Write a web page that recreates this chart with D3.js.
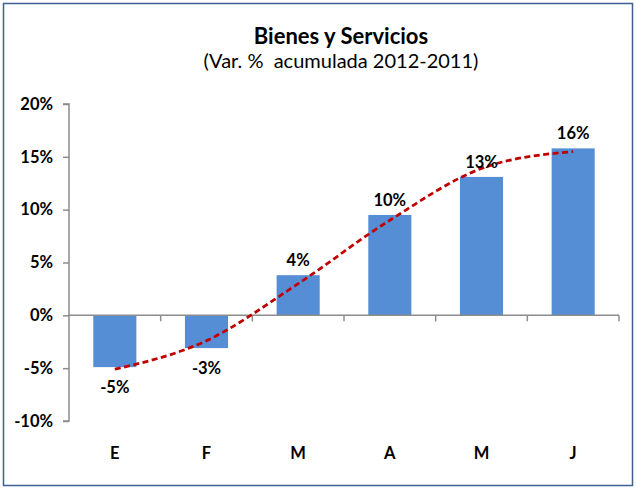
<!DOCTYPE html>
<html>
<head>
<meta charset="utf-8">
<script src="https://cdn.jsdelivr.net/npm/d3@7"></script>
<style>
  body { margin: 0; background: #fff; }
  text { font-family: Lato, "Open Sans", sans-serif; fill: #000; }
</style>
</head>
<body>
<svg id="chart" width="636" height="489"></svg>
<script>
var months = ["E", "F", "M", "A", "M ", "J"];
var values = [-4.9, -3.1, 3.8, 9.5, 13.1, 15.8];
var labels = ["-5%", "-3%", "4%", "10%", "13%", "16%"];
var trend = [-5.1, -2.4, 3.0, 9.0, 13.9, 15.5];
var yTicks = [-10, -5, 0, 5, 10, 15, 20];

var svg = d3.select("#chart"),
    width = +svg.attr("width"),
    height = +svg.attr("height");

var margin = {left: 69, right: 17, top: 104, bottom: 68};

svg.append("rect")
    .attr("x", 3.5).attr("y", 3.5)
    .attr("width", width - 7).attr("height", height - 7)
    .attr("fill", "#fff")
    .attr("stroke", "#3f5f93")
    .attr("stroke-width", 1.5);

svg.append("text")
    .attr("x", 341).attr("y", 44)
    .attr("text-anchor", "middle")
    .style("font-size", "22px").style("font-weight", "bold")
    .text("Bienes y Servicios");

svg.append("text")
    .attr("x", 341).attr("y", 68)
    .attr("text-anchor", "middle")
    .style("font-size", "20px")
    .style("white-space", "pre")
    .text("(Var. %  acumulada 2012-2011)");

var x = d3.scaleBand()
    .domain(months)
    .range([margin.left, width - margin.right]);

var y = d3.scaleLinear()
    .domain([-10, 20])
    .range([421, margin.top]);

var barW = x.bandwidth() * 0.47;

// y axis
var yAxis = svg.append("g")
    .attr("transform", "translate(" + margin.left + ",0)")
    .call(d3.axisLeft(y).tickValues(yTicks).tickSize(6).tickPadding(10)
        .tickFormat(function(d) { return d + "%"; }));
yAxis.selectAll("path, line").attr("stroke", "#8c8c8c").attr("stroke-width", 1.5);
yAxis.selectAll("text")
    .style("font-size", "16.5px").style("font-weight", "bold")
    .style("font-family", "Lato, 'Open Sans', sans-serif");
yAxis.select(".domain").attr("d", "M-6," + y(20) + "H0V" + y(-10) + "H-6");

// bars
svg.append("g")
  .selectAll("rect")
  .data(values)
  .enter().append("rect")
    .attr("x", function(d, i) { return x(months[i]) + (x.bandwidth() - barW) / 2; })
    .attr("y", function(d) { return y(Math.max(0, d)); })
    .attr("width", barW)
    .attr("height", function(d) { return Math.abs(y(d) - y(0)); })
    .attr("fill", "#558ed5");

// x axis at zero
var xAxis = svg.append("g")
    .attr("transform", "translate(0," + y(0) + ")");
xAxis.append("line")
    .attr("x1", margin.left).attr("x2", width - margin.right)
    .attr("stroke", "#8c8c8c").attr("stroke-width", 1.5);
xAxis.selectAll("line.tick")
  .data(months)
  .enter().append("line")
    .attr("class", "tick")
    .attr("x1", function(d) { return x(d) + x.bandwidth(); })
    .attr("x2", function(d) { return x(d) + x.bandwidth(); })
    .attr("y1", 0).attr("y2", 6)
    .attr("stroke", "#8c8c8c").attr("stroke-width", 1.5);

// category labels
svg.append("g")
  .selectAll("text")
  .data(months)
  .enter().append("text")
    .attr("x", function(d) { return x(d) + x.bandwidth() / 2; })
    .attr("y", 459)
    .attr("text-anchor", "middle")
    .style("font-size", "16.5px").style("font-weight", "bold")
    .text(function(d) { return d.trim(); });

// trend line
var line = d3.line()
    .x(function(d, i) { return x(months[i]) + x.bandwidth() / 2; })
    .y(function(d) { return y(d); })
    .curve(d3.curveMonotoneX);

svg.append("path")
    .datum(trend)
    .attr("d", line)
    .attr("fill", "none")
    .attr("stroke", "#c00000")
    .attr("stroke-width", 2.75)
    .attr("stroke-dasharray", "6,3.5");

// data labels
svg.append("g")
  .selectAll("text")
  .data(values)
  .enter().append("text")
    .attr("x", function(d, i) { return x(months[i]) + x.bandwidth() / 2; })
    .attr("y", function(d) { return d < 0 ? y(d) + 26 : y(d) - 9; })
    .attr("text-anchor", "middle")
    .style("font-size", "16.5px").style("font-weight", "bold")
    .text(function(d, i) { return labels[i]; });
</script>
</body>
</html>
